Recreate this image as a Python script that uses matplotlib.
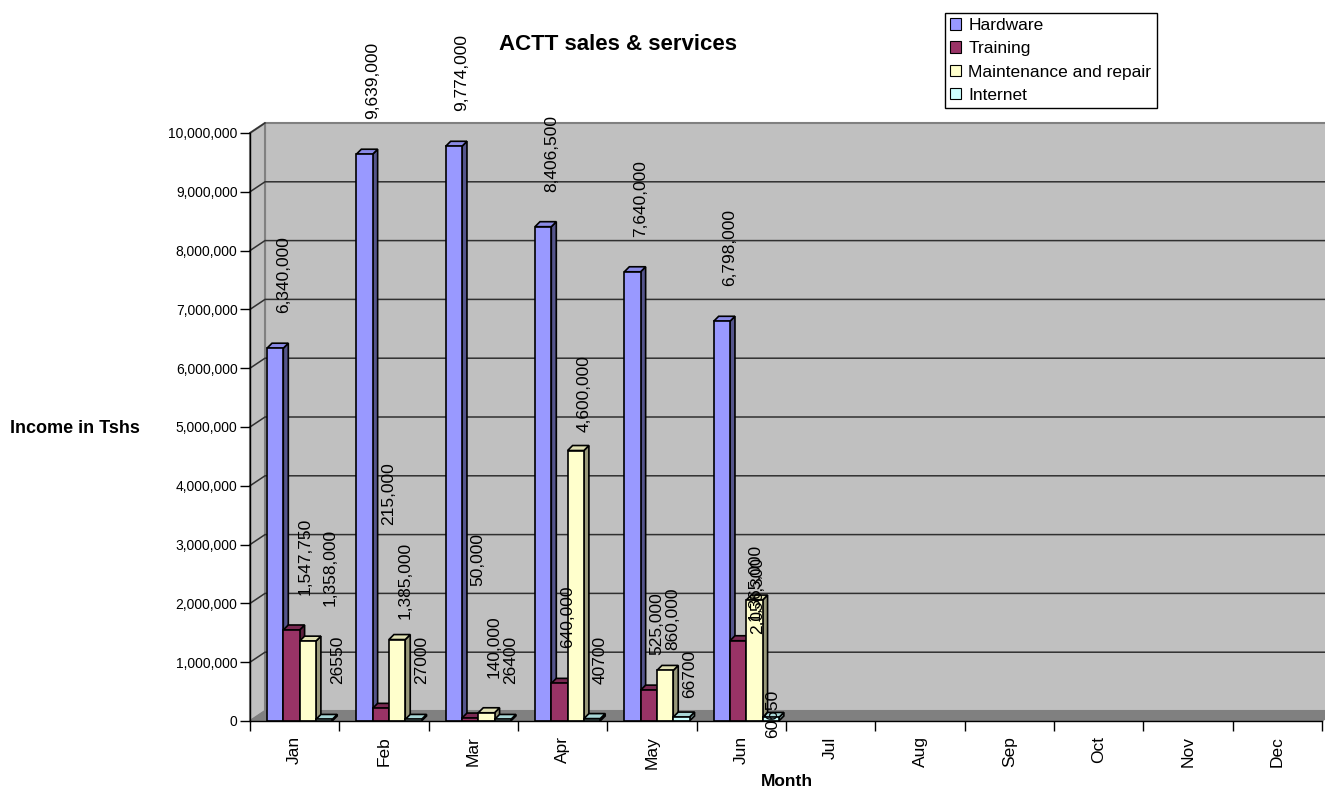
import matplotlib
matplotlib.use('Agg')
import matplotlib.pyplot as plt
from matplotlib.patches import Polygon, Patch
from matplotlib.ticker import FuncFormatter

plt.rcParams['font.family'] = ['Liberation Sans', 'DejaVu Sans']
plt.rcParams['font.size'] = 12.5

# Monthly income per service line (Tshs)
months = ['Jan', 'Feb', 'Mar', 'Apr', 'May', 'Jun',
          'Jul', 'Aug', 'Sep', 'Oct', 'Nov', 'Dec']
series_names = ['Hardware', 'Training', 'Maintenance and repair', 'Internet']
hardware = [6340000, 9639000, 9774000, 8406500, 7640000, 6798000]
training = [1547750, 215000, 50000, 640000, 525000, 1365000]
maintenance = [1358000, 1385000, 140000, 4600000, 860000, 2056300]
internet = [26550, 27000, 26400, 40700, 66700, 60650]
series = [hardware, training, maintenance, internet]

# face colours: front, side, top
front_cols = ['#9999FF', '#993366', '#FFFFCC', '#CCFFFF']
side_cols = ['#55558C', '#5C1F3D', '#99997A', '#7A9999']
top_cols = ['#8A8AE6', '#7A2952', '#E0E0B3', '#A8D6D6']
label_fmt = ['{:,}', '{:,}', '{:,}', '{}']

# hand placed labels that Excel shifted (pixels: right, up)
label_nudge = {(1, 1): (0, 148), (1, 2): (0, 97),
               (2, 1): (0, -14), (2, 3): (0, -16), (2, 4): (0, -15),
               (3, 4): (0, -16), (1, 5): (9, -15), (2, 5): (-5, -69),
               (3, 5): (-6, -56), (2, 0): (14, 0), (1, 0): (6, 0),
               (3, 0): (5, 0)}

W, H = 1325, 789
ymax = 10000000
fig = plt.figure(figsize=(W / 100, H / 100), dpi=100)
ax = fig.add_axes([250 / W, 68 / H, 1072 / W, 588 / H])
ax.set_xlim(0, len(months))
ax.set_ylim(0, ymax)

# pixel sizes in data units
px = len(months) / 1072
py = ymax / 588
DX, DY = 15 * px, 10 * py      # wall depth
BDX, BDY = 5 * px, 5 * py      # bar depth
bw = 16.3 * px
start = 17 * px
nm = len(months)

# walls and floor
ax.add_patch(Polygon([(DX, DY), (nm + DX, DY), (nm + DX, ymax + DY), (DX, ymax + DY)],
                     closed=True, fc='#C0C0C0', ec='#808080', lw=1.5, clip_on=False, zorder=0))
ax.add_patch(Polygon([(0, 0), (DX, DY), (DX, ymax + DY), (0, ymax)],
                     closed=True, fc='#C0C0C0', ec='#808080', lw=1.5, clip_on=False, zorder=0))
for v in range(1000000, ymax + 1, 1000000):
    if v < ymax:
        ax.plot([0, DX, nm + DX], [v, v + DY, v + DY], color='#303030', lw=1.1,
                clip_on=False, zorder=1)
    else:
        ax.plot([0, DX], [v, v + DY], color='#303030', lw=1.1, clip_on=False, zorder=1)
ax.add_patch(Polygon([(0, 0), (nm, 0), (nm + DX, DY), (DX, DY)],
                     closed=True, fc='#808080', ec='#808080', lw=1, clip_on=False, zorder=1.5))

# 3D looking columns
for j in range(len(hardware)):
    for i, vals in enumerate(series):
        v = vals[j]
        x0 = j + start + i * bw
        x1 = x0 + bw
        kw = dict(closed=True, ec='black', lw=1.2, clip_on=False, joinstyle='miter')
        ax.add_patch(Polygon([(x1, 0), (x1 + BDX, BDY), (x1 + BDX, v + BDY), (x1, v)],
                             fc=side_cols[i], zorder=2, **kw))
        ax.add_patch(Polygon([(x0, v), (x0 + BDX, v + BDY), (x1 + BDX, v + BDY), (x1, v)],
                             fc=top_cols[i], zorder=2, **kw))
        ax.add_patch(Polygon([(x0, 0), (x1, 0), (x1, v), (x0, v)],
                             fc=front_cols[i], zorder=2, **kw))
        ndx, ndy = label_nudge.get((i, j), (0, 0))
        ax.annotate(label_fmt[i].format(v), (x1, v),
                    xytext=(ndx * 0.72, (35 + ndy) * 0.72), textcoords='offset points',
                    rotation=90, ha='center', va='bottom', annotation_clip=False, zorder=5)

# axes
for s in ['top', 'right']:
    ax.spines[s].set_visible(False)
ax.spines['left'].set_bounds(0, ymax)
ax.spines['bottom'].set_bounds(0, nm)
for s in ['left', 'bottom']:
    ax.spines[s].set_color('black')
    ax.spines[s].set_linewidth(1)
    ax.spines[s].set_zorder(3)
ax.set_yticks(range(0, ymax + 1, 1000000))
ax.yaxis.set_major_formatter(FuncFormatter(lambda v, p: '{:,.0f}'.format(v)))
ax.tick_params(axis='y', direction='out', length=7, width=1, pad=2, labelsize=10)
ax.set_xticks(range(nm + 1))
ax.set_xticklabels([])
ax.set_xticks([k + 0.5 for k in range(nm)], minor=True)
ax.set_xticklabels(months, minor=True, rotation=90)
ax.tick_params(axis='x', which='major', direction='out', length=7, width=1)
ax.tick_params(axis='x', which='minor', length=0, pad=11)

fig.text(618 / W, 1 - 45 / H, 'ACTT sales & services', ha='center', va='center',
         fontsize=16, fontweight='bold')
fig.text(10 / W, 1 - 428 / H, 'Income in Tshs', ha='left', va='center',
         fontsize=13, fontweight='bold')
fig.text(787 / W, 1 - 782 / H, 'Month', ha='center', va='center', fontweight='bold')

handles = [Patch(fc=c, ec='black', lw=0.8) for c in front_cols]
leg = fig.legend(handles, series_names, loc='upper left', bbox_to_anchor=(945 / W, 1 - 13 / H),
                 bbox_transform=fig.transFigure, borderaxespad=0, fancybox=False,
                 edgecolor='black', framealpha=1, labelspacing=0.47, borderpad=0.3,
                 handlelength=0.65, handleheight=0.65, handletextpad=0.4)
leg.get_frame().set_linewidth(1)

fig.savefig('out.png', dpi=100)
